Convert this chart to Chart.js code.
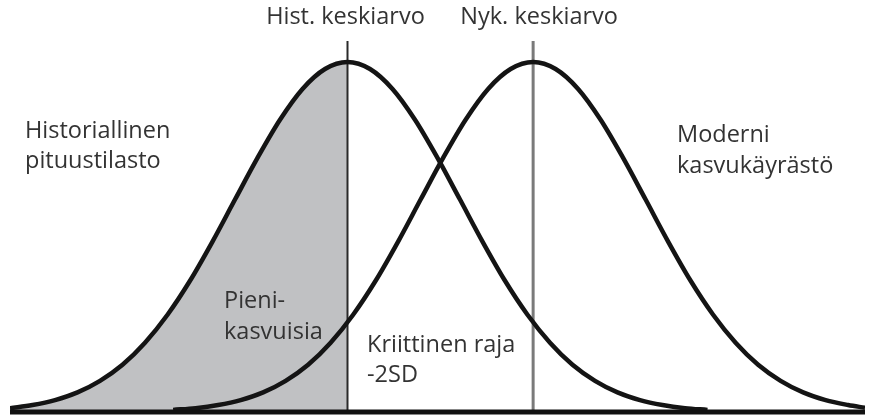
<!DOCTYPE html>
<html>
<head>
<meta charset="utf-8">
<script src="https://cdn.jsdelivr.net/npm/chart.js@4"></script>
<style>
  body{ margin:0; background:#fff; }
  #wrap{ width:871px; height:419px; position:relative; }
</style>
</head>
<body>
<div id="wrap"><canvas id="c"></canvas></div>
<script>
/* DATA (x in SD units of the historical curve, y = relative height) */
const histX = [-3.0,-2.8,-2.6,-2.4,-2.2,-2.0,-1.8,-1.6,-1.4,-1.2,-1.0,-0.8,-0.6,-0.4,-0.2,0.0,
               0.2,0.4,0.6,0.8,1.0,1.2,1.4,1.6,1.8,2.0,2.2,2.4,2.6,2.8,3.0,3.2];
const histY = [0.011,0.020,0.034,0.056,0.089,0.135,0.198,0.278,0.375,0.487,0.607,0.726,0.835,0.923,0.980,1.000,
               0.980,0.923,0.835,0.726,0.607,0.487,0.375,0.278,0.198,0.135,0.089,0.056,0.034,0.020,0.011,0.006];
const nykX = [-1.55,-1.35,-1.15,-0.95,-0.75,-0.55,-0.35,-0.15,0.05,0.25,0.45,0.65,0.85,1.05,1.25,1.45,1.65,
              1.85,2.05,2.25,2.45,2.65,2.85,3.05,3.25,3.45,3.65,3.85,4.05,4.25,4.45,4.6];
const nykY = [0.006,0.011,0.020,0.034,0.056,0.089,0.135,0.198,0.278,0.375,0.487,0.607,0.726,0.835,0.923,0.980,1.000,
              0.980,0.923,0.835,0.726,0.607,0.487,0.375,0.278,0.198,0.135,0.089,0.056,0.034,0.020,0.012];
const means = [0, 1.65];
const meanLabels = ["Hist. keskiarvo", "Nyk. keskiarvo"];
const xRange = [-3.0, 4.6];
const yMax = 1.06;

const pts = (xs, ys) => xs.map((x,i)=>({x:x, y:ys[i]}));
const histPts = pts(histX, histY);

/* TEXT LABELS */
const TEXT = "#333";
const FONT = "23.5px 'Open Sans'";
const labelsPlugin = {
  id:"labels",
  afterDatasetsDraw(chart){
    const ctx = chart.ctx, sx = chart.scales.x;
    ctx.save();
    ctx.fillStyle = TEXT;
    ctx.font = FONT;
    ctx.textBaseline = "alphabetic";
    ctx.textAlign = "center";
    meanLabels.forEach((t,i)=> ctx.fillText(t, sx.getPixelForValue(means[i]) + (i ? 6 : -2), 24));
    ctx.textAlign = "left";
    ctx.fillText("Historiallinen", 25, 138);
    ctx.fillText("pituustilasto", 25, 168);
    ctx.fillText("Moderni", 677, 142);
    ctx.fillText("kasvukäyrästö", 677, 173);
    ctx.fillText("Pieni-", 224, 308);
    ctx.fillText("kasvuisia", 224, 339);
    ctx.fillText("Kriittinen raja", 367, 352);
    ctx.fillText("-2SD", 367, 382);
    ctx.restore();
  }
};

new Chart(document.getElementById("c"), {
  type:"line",
  data:{
    datasets:[
      { // shaded small-stature area
        data: histPts.filter(p=>p.x<=0),
        fill:"origin", backgroundColor:"#c0c1c3",
        borderWidth:0, pointRadius:0, cubicInterpolationMode:"monotone", order:5
      },
      { // historical mean line
        data:[{x:means[0],y:0},{x:means[0],y:yMax}],
        borderColor:"#2a2a2a", borderWidth:2, pointRadius:0, order:4
      },
      { // current mean line
        data:[{x:means[1],y:0},{x:means[1],y:yMax}],
        borderColor:"#7a7a7a", borderWidth:3, pointRadius:0, order:4
      },
      { // historical curve
        data: histPts,
        borderColor:"#141414", borderWidth:4.5, pointRadius:0,
        cubicInterpolationMode:"monotone", fill:false, order:2
      },
      { // modern curve
        data: pts(nykX, nykY),
        borderColor:"#141414", borderWidth:4.5, pointRadius:0,
        cubicInterpolationMode:"monotone", fill:false, order:2
      },
      { // baseline
        data:[{x:xRange[0],y:0},{x:xRange[1],y:0}],
        borderColor:"#111", borderWidth:5, pointRadius:0, clip:false, order:1
      }
    ]
  },
  options:{
    responsive:true, maintainAspectRatio:false, animation:false,
    layout:{ padding:{ left:10, right:6, top:41, bottom:7 } },
    plugins:{ legend:{display:false}, tooltip:{enabled:false} },
    scales:{
      x:{ type:"linear", min:xRange[0], max:xRange[1], display:false },
      y:{ min:0, max:yMax, display:false }
    }
  },
  plugins:[labelsPlugin]
});
</script>
</body>
</html>
